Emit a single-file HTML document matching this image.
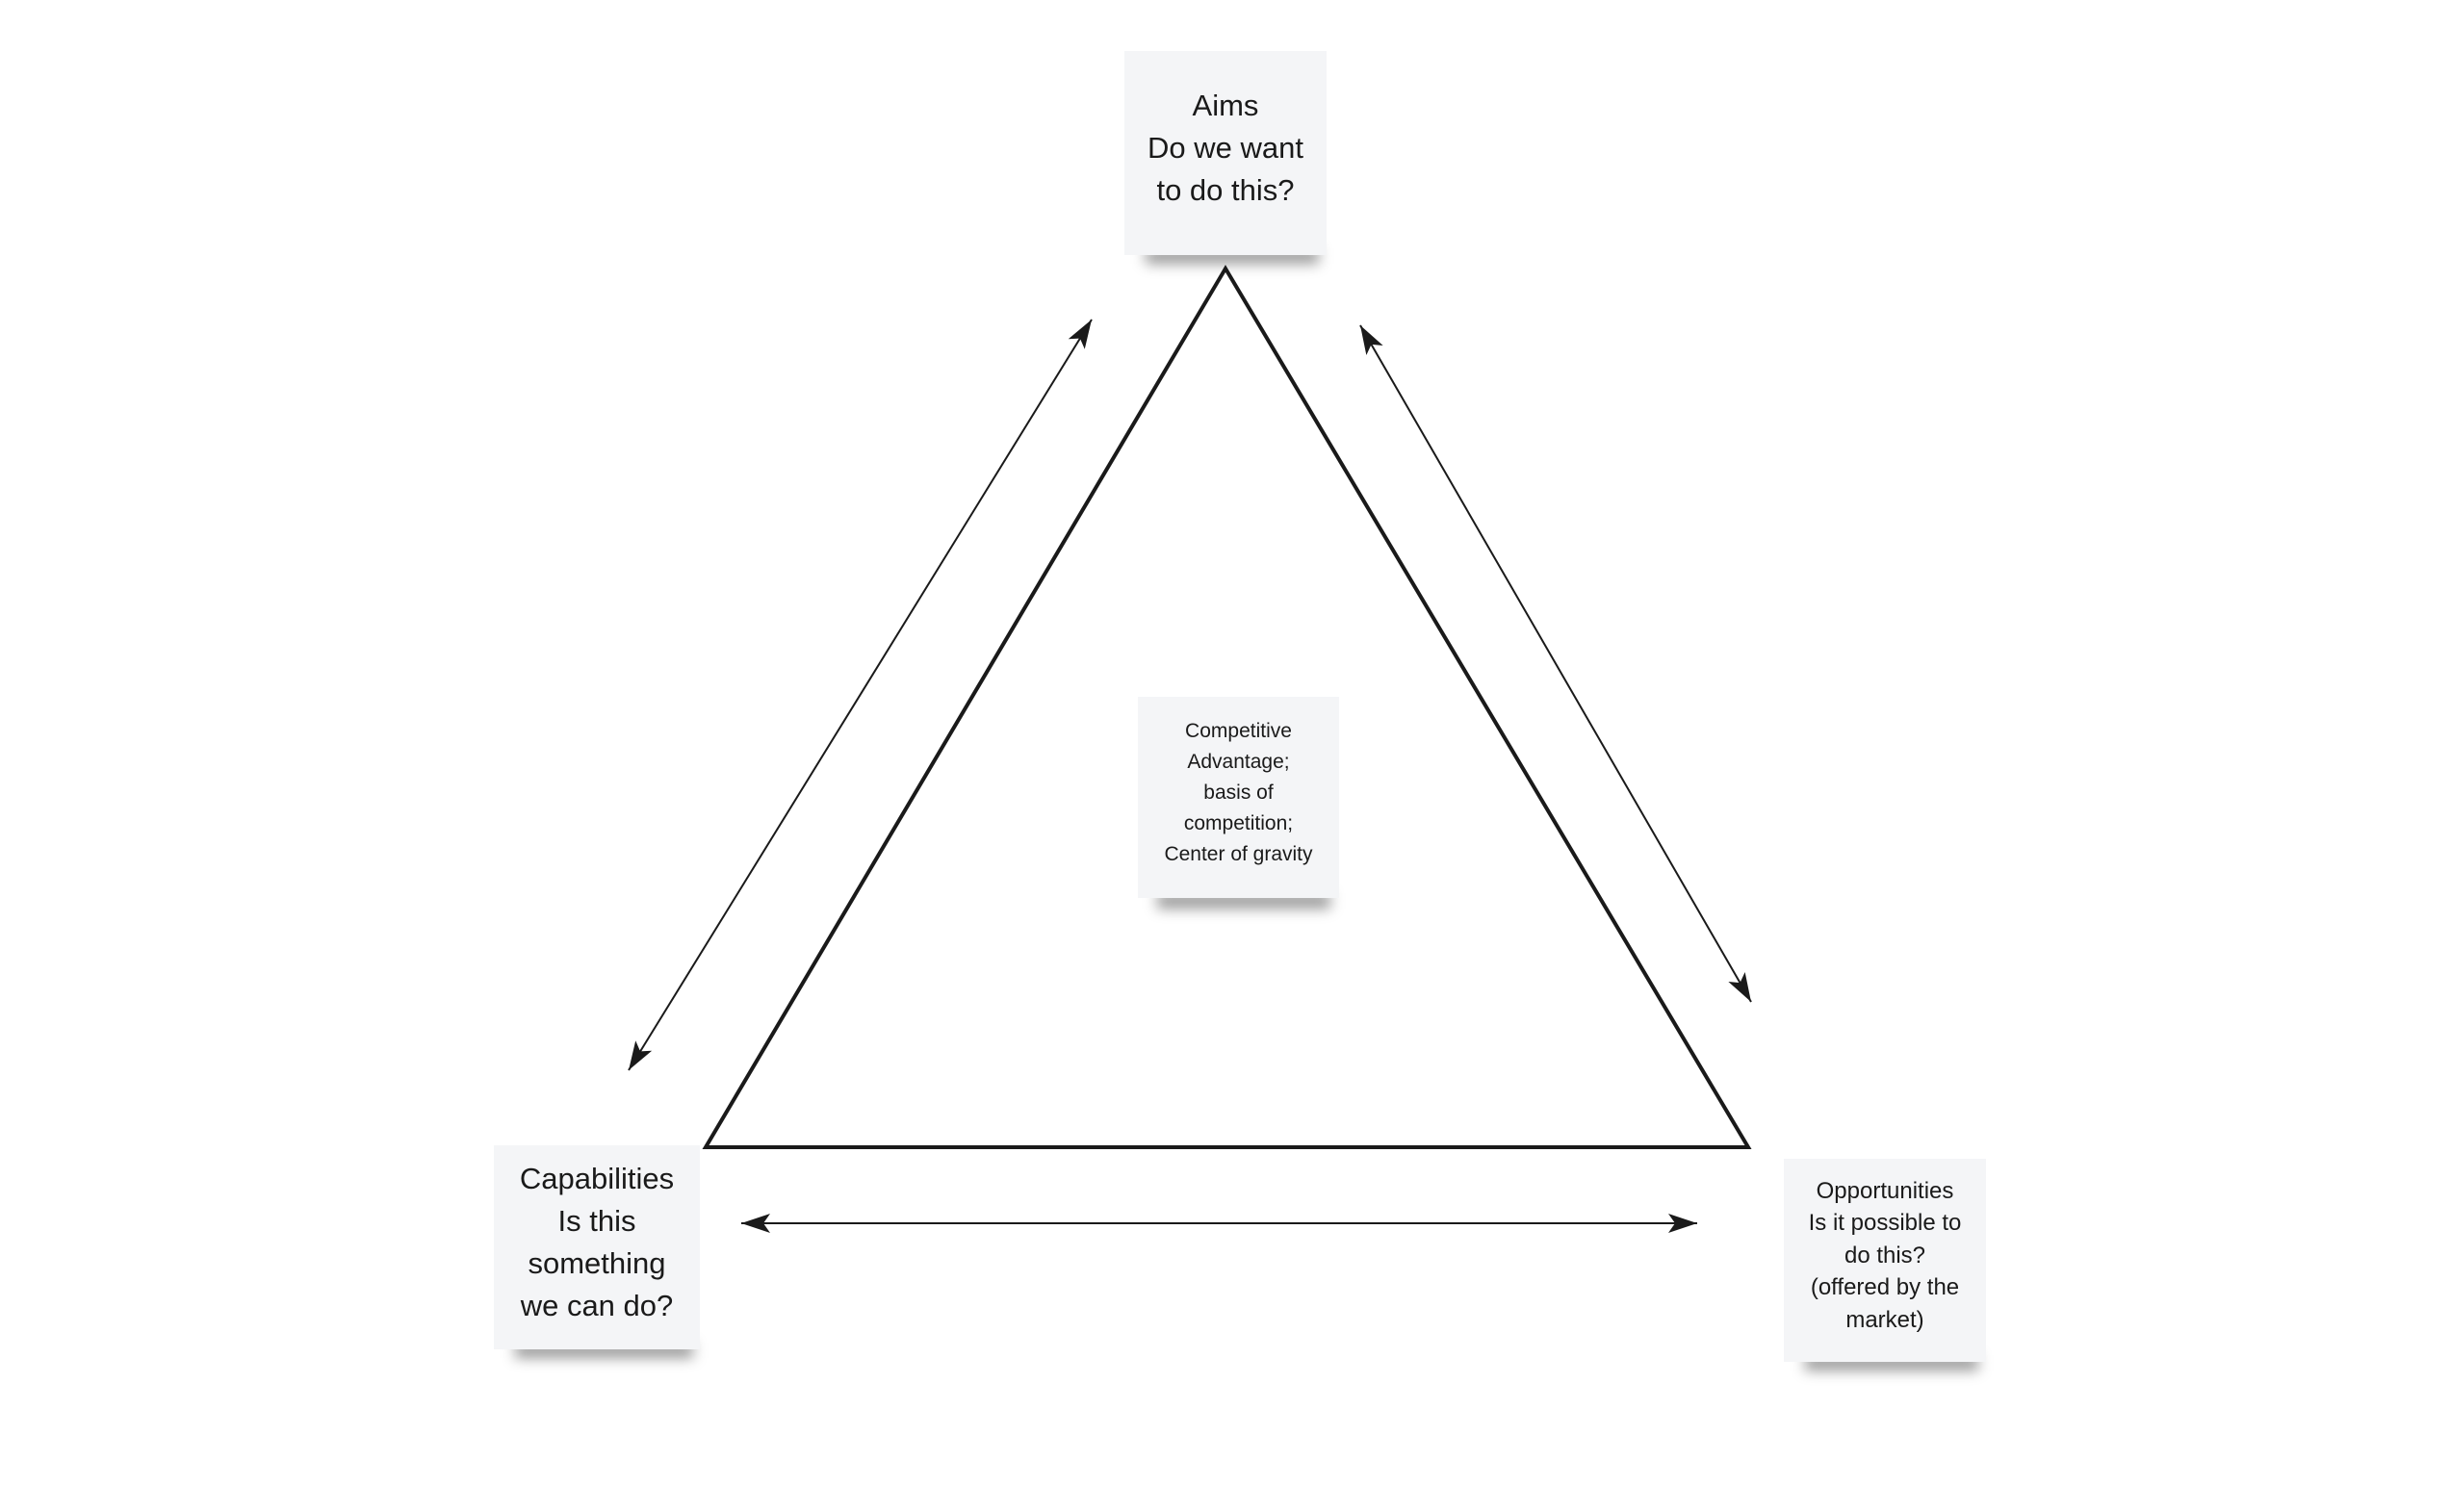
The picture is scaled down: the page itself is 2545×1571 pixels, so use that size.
<!DOCTYPE html>
<html><head><meta charset="utf-8"><style>
html,body{margin:0;padding:0;background:#fff;}
body{width:2545px;height:1571px;position:relative;overflow:hidden;font-family:"Liberation Sans","DejaVu Sans",sans-serif;color:#1a1a1a;}
.note{position:absolute;background:#f4f5f7;display:flex;align-items:center;justify-content:center;text-align:center;box-sizing:border-box;padding-bottom:10px;z-index:2;}
.sh{position:absolute;height:16px;background:rgba(0,0,0,0.4);filter:blur(7px);z-index:1;}
.note span{display:block;}
svg{position:absolute;left:0;top:0;z-index:0;}
</style></head><body>
<svg width="2545" height="1571" viewBox="0 0 2545 1571">
<defs>
<marker id="ah" viewBox="0 0 30 20" refX="30" refY="10" markerWidth="30" markerHeight="20" markerUnits="userSpaceOnUse" orient="auto-start-reverse">
<path d="M0,0 L30,10 L0,20 L7,10 Z" fill="#1a1a1a"/>
</marker>
</defs>
<polygon points="1273,279 733,1192 1816,1192" fill="none" stroke="#1a1a1a" stroke-width="4" stroke-linejoin="miter"/>
<line x1="1134" y1="332" x2="653" y2="1112" stroke="#1a1a1a" stroke-width="2" marker-start="url(#ah)" marker-end="url(#ah)"/>
<line x1="1413" y1="338" x2="1819" y2="1041" stroke="#1a1a1a" stroke-width="2" marker-start="url(#ah)" marker-end="url(#ah)"/>
<line x1="770" y1="1271" x2="1763" y2="1271" stroke="#1a1a1a" stroke-width="2" marker-start="url(#ah)" marker-end="url(#ah)"/>
</svg>
<div class="sh" style="left:1190px;top:258px;width:180px;"></div>
<div class="note" style="left:1168px;top:53px;width:210px;height:212px;font-size:31px;line-height:44px;"><div><span>Aims</span><span>Do we want</span><span>to do this?</span></div></div>
<div class="sh" style="left:535px;top:1395px;width:185px;"></div>
<div class="note" style="left:513px;top:1190px;width:214px;height:212px;font-size:31px;line-height:44px;"><div><span>Capabilities</span><span>Is this</span><span>something</span><span>we can do?</span></div></div>
<div class="sh" style="left:1875px;top:1408px;width:180px;"></div>
<div class="note" style="left:1853px;top:1204px;width:210px;height:211px;font-size:24px;line-height:33.5px;"><div><span>Opportunities</span><span>Is it possible to</span><span>do this?</span><span>(offered by the</span><span>market)</span></div></div>
<div class="sh" style="left:1202px;top:928px;width:180px;"></div>
<div class="note" style="left:1182px;top:724px;width:209px;height:209px;font-size:21px;line-height:32px;"><div><span>Competitive</span><span>Advantage;</span><span>basis of</span><span>competition;</span><span>Center of gravity</span></div></div>
</body></html>
